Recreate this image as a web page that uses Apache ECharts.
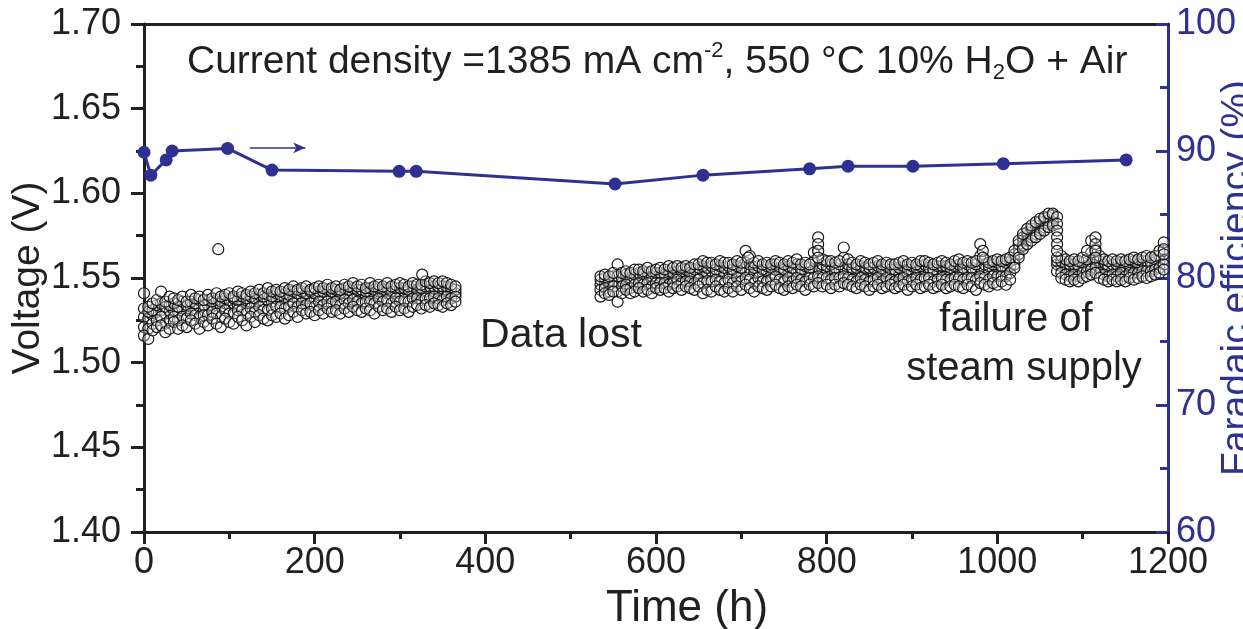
<!DOCTYPE html>
<html><head><meta charset="utf-8">
<script src="https://cdn.jsdelivr.net/npm/echarts/dist/echarts.min.js"></script>
<style>html,body{margin:0;padding:0;background:#fff}#c{width:1243px;height:629px}</style>
</head><body><div id="c"></div>
<script>
// ---- Data ----
const xTicks = [0, 200, 400, 600, 800, 1000, 1200];
const vTicks = ['1.40','1.45','1.50','1.55','1.60','1.65','1.70'];
const feTicks = [60, 70, 80, 90, 100];

// Faradaic efficiency (%)
const feTime = [0, 8, 26, 33, 98, 150, 299, 319, 552, 655, 780, 825, 901, 1007, 1151];
const feVal  = [89.9, 88.1, 89.3, 90.0, 90.2, 88.5, 88.4, 88.4, 87.4, 88.1, 88.6, 88.8, 88.8, 89.0, 89.3];

// Voltage, first segment (before data loss)
const seg1Time = [0,5,10,15,20,25,30,35,40,45,50,55,60,65,70,75,80,85,90,95,100,105,110,115,120,125,130,135,140,145,150,155,160,165,170,175,180,185,190,195,200,205,210,215,220,225,230,235,240,245,250,255,260,265,270,275,280,285,290,295,300,305,310,315,320,325,330,335,340,345,350,355,360,365];
const seg1Mid = [1.527,1.526,1.528,1.530,1.531,1.529,1.530,1.531,1.530,1.532,
 1.531,1.533,1.532,1.533,1.531,1.534,1.533,1.534,1.533,1.535,
 1.534,1.535,1.534,1.536,1.535,1.536,1.535,1.537,1.536,1.537,
 1.536,1.538,1.537,1.538,1.537,1.539,1.538,1.539,1.538,1.539,
 1.538,1.540,1.539,1.540,1.539,1.540,1.539,1.541,1.540,1.541,
 1.540,1.541,1.540,1.541,1.540,1.542,1.541,1.541,1.540,1.542,
 1.541,1.542,1.541,1.542,1.541,1.542,1.542,1.543,1.542,1.543,
 1.542,1.543,1.542,1.541];
const seg1UpMid = [1.532,1.530,1.531,1.534,1.535,1.533,1.534,1.535,1.533,1.536,
 1.534,1.536,1.535,1.537,1.534,1.537,1.536,1.537,1.536,1.538,
 1.537,1.538,1.537,1.539,1.538,1.539,1.538,1.540,1.539,1.540,
 1.539,1.541,1.540,1.541,1.540,1.542,1.541,1.542,1.541,1.542,
 1.541,1.542,1.542,1.543,1.542,1.543,1.541,1.544,1.543,1.544,
 1.543,1.543,1.542,1.544,1.543,1.544,1.543,1.544,1.542,1.544,
 1.544,1.544,1.543,1.545,1.543,1.544,1.545,1.545,1.545,1.545,
 1.545,1.545,1.544,1.543];
const seg1High = [1.541,1.533,1.535,1.537,1.542,1.536,1.539,1.538,1.537,1.539,
 1.536,1.540,1.538,1.539,1.537,1.540,1.538,1.541,1.539,1.540,
 1.541,1.539,1.542,1.541,1.540,1.542,1.541,1.543,1.541,1.544,
 1.542,1.543,1.542,1.544,1.543,1.545,1.543,1.544,1.545,1.543,
 1.544,1.545,1.544,1.546,1.544,1.545,1.543,1.546,1.545,1.547,
 1.545,1.546,1.544,1.547,1.545,1.546,1.545,1.547,1.545,1.546,
 1.547,1.546,1.545,1.547,1.546,1.546,1.548,1.547,1.548,1.547,
 1.548,1.547,1.546,1.545];
const seg1LoMid = [1.521,1.520,1.523,1.525,1.527,1.523,1.525,1.527,1.525,1.527,
 1.526,1.529,1.528,1.527,1.528,1.528,1.530,1.529,1.527,1.531,
 1.529,1.529,1.531,1.531,1.529,1.532,1.530,1.533,1.531,1.531,
 1.532,1.533,1.533,1.532,1.533,1.535,1.533,1.535,1.534,1.535,
 1.533,1.536,1.534,1.536,1.535,1.536,1.534,1.537,1.535,1.537,
 1.536,1.535,1.536,1.536,1.535,1.538,1.536,1.537,1.535,1.538,
 1.536,1.537,1.536,1.538,1.538,1.537,1.538,1.538,1.539,1.538,
 1.537,1.539,1.538,1.539];
const seg1Low = [1.516,1.514,1.519,1.521,1.522,1.518,1.520,1.524,1.520,1.522,
 1.521,1.525,1.523,1.520,1.524,1.522,1.526,1.523,1.521,1.526,
 1.524,1.523,1.527,1.525,1.522,1.527,1.524,1.528,1.526,1.525,
 1.528,1.527,1.529,1.526,1.528,1.530,1.527,1.531,1.529,1.530,
 1.528,1.531,1.529,1.532,1.530,1.531,1.529,1.532,1.530,1.533,
 1.531,1.530,1.532,1.531,1.529,1.533,1.531,1.532,1.530,1.533,
 1.531,1.532,1.530,1.533,1.534,1.532,1.534,1.533,1.535,1.534,
 1.533,1.535,1.534,1.536];

// Voltage, second segment (after data loss)
const seg2Time = [535,540,545,550,555,560,565,570,575,580,585,590,595,600,605,610,615,620,625,630,635,640,645,650,655,660,665,670,675,680,685,690,695,700,705,710,715,720,725,730,735,740,745,750,755,760,765,770,775,780,785,790,795,800,805,810,815,820,825,830,835,840,845,850,855,860,865,870,875,880,885,890,895,900,905,910,915,920,925,930,935,940,945,950,955,960,965,970,975,980,985,990,995,1000,1005,1010,1015,1020,1025,1030,1035,1040,1045,1050,1055,1060,1065,1070,1075,1080,1085,1090,1095,1100,1105,1110,1115,1120,1125,1130,1135,1140,1145,1150,1155,1160,1165,1170,1175,1180,1185,1190,1195];
const seg2Mid = [1.546,1.547,1.546,1.548,1.547,1.548,1.549,1.548,1.549,1.550,
 1.549,1.550,1.549,1.550,1.551,1.550,1.551,1.550,1.552,1.551,
 1.552,1.551,1.552,1.553,1.554,1.553,1.554,1.553,1.554,1.553,
 1.554,1.553,1.554,1.553,1.555,1.554,1.553,1.554,1.553,1.554,
 1.553,1.555,1.554,1.553,1.554,1.553,1.554,1.553,1.554,1.553,
 1.555,1.556,1.555,1.554,1.555,1.554,1.555,1.556,1.555,1.554,
 1.553,1.554,1.553,1.554,1.553,1.554,1.553,1.554,1.553,1.552,
 1.553,1.554,1.553,1.554,1.553,1.554,1.555,1.554,1.553,1.554,
 1.555,1.554,1.553,1.554,1.555,1.554,1.555,1.554,1.555,1.556,
 1.555,1.554,1.555,1.556,1.555,1.556,1.557,1.561,1.567,1.572,
 1.575,1.577,1.579,1.581,1.583,1.584,1.585,1.558,1.557,1.556,
 1.555,1.556,1.555,1.556,1.557,1.558,1.559,1.557,1.556,1.555,
 1.556,1.555,1.556,1.555,1.556,1.557,1.556,1.557,1.558,1.557,
 1.558,1.560,1.561];
const seg2UpMid = [1.549,1.550,1.548,1.551,1.551,1.550,1.552,1.550,1.552,1.553,
 1.552,1.553,1.551,1.553,1.553,1.552,1.554,1.553,1.554,1.554,
 1.555,1.553,1.555,1.556,1.557,1.556,1.557,1.555,1.557,1.556,
 1.557,1.555,1.557,1.556,1.559,1.558,1.556,1.557,1.555,1.557,
 1.556,1.558,1.556,1.555,1.557,1.556,1.558,1.555,1.557,1.556,
 1.560,1.566,1.558,1.557,1.558,1.556,1.558,1.562,1.558,1.556,
 1.556,1.557,1.556,1.556,1.556,1.557,1.555,1.557,1.555,1.555,
 1.556,1.557,1.555,1.557,1.556,1.557,1.558,1.556,1.555,1.557,
 1.557,1.557,1.556,1.557,1.558,1.556,1.558,1.556,1.558,1.563,
 1.558,1.557,1.558,1.559,1.557,1.559,1.560,1.564,1.570,1.574,
 1.577,1.579,1.581,1.583,1.585,1.586,1.587,1.560,1.560,1.558,
 1.558,1.558,1.557,1.559,1.561,1.565,1.567,1.560,1.558,1.557,
 1.558,1.558,1.559,1.557,1.558,1.560,1.558,1.560,1.560,1.559,
 1.561,1.563,1.566];
const seg2High = [1.551,1.552,1.551,1.553,1.558,1.553,1.554,1.553,1.555,1.555,
 1.554,1.556,1.554,1.555,1.556,1.555,1.557,1.556,1.557,1.556,
 1.557,1.556,1.558,1.558,1.560,1.559,1.559,1.558,1.560,1.559,
 1.559,1.558,1.560,1.559,1.566,1.563,1.559,1.560,1.558,1.559,
 1.558,1.560,1.559,1.558,1.560,1.559,1.561,1.558,1.559,1.558,
 1.565,1.574,1.561,1.560,1.560,1.559,1.560,1.568,1.561,1.559,
 1.558,1.560,1.559,1.558,1.559,1.560,1.558,1.559,1.558,1.558,
 1.559,1.560,1.558,1.559,1.558,1.560,1.560,1.559,1.558,1.559,
 1.560,1.559,1.558,1.560,1.561,1.559,1.560,1.559,1.560,1.570,
 1.561,1.559,1.560,1.561,1.560,1.561,1.562,1.566,1.572,1.576,
 1.579,1.581,1.583,1.585,1.586,1.588,1.588,1.586,1.563,1.561,
 1.560,1.561,1.560,1.562,1.566,1.572,1.574,1.563,1.561,1.560,
 1.561,1.560,1.561,1.560,1.561,1.562,1.561,1.562,1.563,1.562,
 1.563,1.566,1.571];
const seg2LoMid = [1.543,1.544,1.542,1.545,1.542,1.545,1.546,1.544,1.546,1.547,
 1.546,1.547,1.545,1.547,1.547,1.547,1.546,1.547,1.549,1.547,
 1.548,1.548,1.547,1.549,1.547,1.548,1.548,1.549,1.548,1.547,
 1.549,1.547,1.550,1.548,1.550,1.549,1.547,1.550,1.548,1.548,
 1.549,1.551,1.549,1.548,1.550,1.548,1.550,1.549,1.548,1.550,
 1.550,1.551,1.550,1.550,1.549,1.550,1.550,1.551,1.550,1.549,
 1.548,1.550,1.549,1.548,1.549,1.550,1.548,1.550,1.549,1.548,
 1.549,1.550,1.548,1.549,1.550,1.549,1.550,1.550,1.548,1.549,
 1.550,1.549,1.549,1.550,1.550,1.549,1.550,1.550,1.549,1.551,
 1.550,1.549,1.551,1.551,1.551,1.551,1.553,1.558,1.564,1.569,
 1.572,1.574,1.576,1.578,1.580,1.582,1.583,1.554,1.553,1.552,
 1.551,1.552,1.551,1.553,1.554,1.555,1.556,1.553,1.552,1.551,
 1.552,1.551,1.553,1.551,1.553,1.553,1.553,1.554,1.554,1.554,
 1.555,1.556,1.558];
const seg2Low = [1.539,1.541,1.540,1.542,1.536,1.541,1.543,1.541,1.542,1.544,
 1.542,1.543,1.541,1.544,1.543,1.544,1.542,1.544,1.545,1.543,
 1.545,1.544,1.543,1.545,1.541,1.543,1.542,1.545,1.543,1.542,
 1.544,1.542,1.545,1.543,1.546,1.544,1.542,1.545,1.544,1.543,
 1.545,1.546,1.544,1.543,1.545,1.544,1.546,1.545,1.543,1.546,
 1.545,1.547,1.545,1.546,1.544,1.546,1.545,1.547,1.546,1.545,
 1.544,1.546,1.545,1.543,1.545,1.546,1.544,1.545,1.546,1.544,
 1.545,1.546,1.543,1.545,1.546,1.544,1.545,1.546,1.544,1.545,
 1.546,1.544,1.545,1.546,1.545,1.544,1.546,1.545,1.543,1.547,
 1.546,1.545,1.547,1.546,1.548,1.546,1.549,1.556,1.562,1.567,
 1.570,1.572,1.574,1.576,1.578,1.580,1.581,1.562,1.550,1.549,
 1.548,1.549,1.548,1.550,1.551,1.552,1.553,1.550,1.549,1.548,
 1.549,1.548,1.549,1.548,1.550,1.549,1.550,1.551,1.550,1.551,
 1.552,1.553,1.555];

// isolated points and vertical stacks (spikes)
const extraTime = [87, 326, 708, 790, 790, 790, 983, 983, 1070, 1070, 1070, 1070, 1070, 1115, 1115, 1115, 1195, 1195];
const extraVolt = [1.567, 1.552, 1.562, 1.570, 1.566, 1.562, 1.566, 1.562, 1.582, 1.578, 1.574, 1.570, 1.566, 1.570, 1.566, 1.562, 1.567, 1.564];

// ---- Build ----
const BLUE = '#2e3192';
const INK = '#231f20';
const FONT = '"Liberation Sans", Arial, Helvetica, sans-serif';

function pairs(t, v) { return t.map((x, i) => [x, v[i]]); }
const voltData = [].concat(
  pairs(seg1Time, seg1Mid), pairs(seg2Time, seg2Mid),
  pairs(seg1Time, seg1UpMid), pairs(seg2Time, seg2UpMid),
  pairs(seg1Time, seg1LoMid), pairs(seg2Time, seg2LoMid),
  pairs(seg1Time, seg1High), pairs(seg2Time, seg2High),
  pairs(seg1Time, seg1Low), pairs(seg2Time, seg2Low),
  pairs(extraTime, extraVolt)
);
const feData = pairs(feTime, feVal);

const chart = echarts.init(document.getElementById('c'));
chart.setOption({
  animation: false,
  backgroundColor: '#fff',
  grid: { left: 144, right: 75, top: 24, bottom: 97, containLabel: false, outerBoundsMode: 'none' },
  xAxis: [{
    type: 'value', position: 'bottom', min: xTicks[0], max: xTicks[xTicks.length - 1], interval: 200,
    axisLine: { show: true, onZero: false, lineStyle: { color: INK, width: 3 } },
    axisTick: { show: true, inside: false, length: 12, lineStyle: { color: INK, width: 3 } },
    minorTick: { show: true, splitNumber: 2, length: 7, lineStyle: { color: INK, width: 3 } },
    splitLine: { show: false },
    axisLabel: { color: INK, fontSize: 36, fontFamily: FONT, margin: 13,
      formatter: v => String(xTicks[Math.round(v / 200)]) },
    name: 'Time (h)', nameLocation: 'middle', nameGap: 55, nameMoveOverlap: false,
    nameTextStyle: { color: INK, fontSize: 44, fontFamily: FONT, padding: [0, 0, 0, 62] }
  }, {
    type: 'value', position: 'top', min: 0, max: 1200, interval: 200,
    axisLine: { show: true, onZero: false, lineStyle: { color: INK, width: 3 } },
    axisTick: { show: false }, axisLabel: { show: false }, splitLine: { show: false }
  }],
  yAxis: [{
    type: 'value', position: 'left', min: 1.40, max: 1.70, interval: 0.05,
    axisLine: { show: true, onZero: false, lineStyle: { color: INK, width: 3 } },
    axisTick: { show: true, inside: false, length: 13, lineStyle: { color: INK, width: 3 } },
    minorTick: { show: true, splitNumber: 2, length: 8, lineStyle: { color: INK, width: 3 } },
    splitLine: { show: false },
    axisLabel: { color: INK, fontSize: 36, fontFamily: FONT, margin: 23,
      formatter: v => vTicks[Math.round((v - 1.40) / 0.05)] },
    name: 'Voltage (V)', nameLocation: 'middle', nameGap: 96, nameRotate: 90,
    nameMoveOverlap: false,
    nameTextStyle: { color: INK, fontSize: 39, fontFamily: FONT }
  }, {
    type: 'value', position: 'right', min: feTicks[0], max: feTicks[feTicks.length - 1], interval: 10,
    axisLine: { show: true, onZero: false, lineStyle: { color: BLUE, width: 3 } },
    axisTick: { show: true, inside: true, length: 12, lineStyle: { color: BLUE, width: 3 } },
    minorTick: { show: true, splitNumber: 2, length: 8, lineStyle: { color: BLUE, width: 3 } },
    splitLine: { show: false },
    axisLabel: { color: BLUE, fontSize: 36, fontFamily: FONT, margin: 8 },
    name: 'Faradaic efficiency (%)', nameLocation: 'middle', nameGap: 50, nameRotate: 90,
    nameMoveOverlap: false,
    nameTextStyle: { color: BLUE, fontSize: 39, fontFamily: FONT }
  }],
  series: [{
    type: 'scatter', name: 'Voltage', xAxisIndex: 0, yAxisIndex: 0,
    symbol: 'circle', symbolSize: 11,
    itemStyle: { color: 'rgba(255,255,255,0.3)', borderColor: '#161616', borderWidth: 1.2, opacity: 1 },
    data: voltData, z: 2
  }, {
    type: 'line', name: 'FE', xAxisIndex: 0, yAxisIndex: 1,
    symbol: 'circle', symbolSize: 13, showSymbol: true,
    lineStyle: { color: BLUE, width: 3 },
    itemStyle: { color: BLUE, borderColor: BLUE, borderWidth: 0 },
    data: feData, z: 3,
    markLine: {
      silent: true, symbol: ['none', 'arrow'], symbolSize: [8, 12],
      label: { show: false },
      lineStyle: { color: BLUE, width: 1.5, type: 'solid' },
      data: [[{ coord: [124, 90.25] }, { coord: [189, 90.25] }]]
    }
  }],
  graphic: [{
    type: 'text', x: 187, y: 62,
    style: {
      text: 'Current density =1385 mA cm{sup|-2}, 550 °C 10% H{sub|2}O + Air',
      fontSize: 39, fontFamily: FONT, fill: INK, align: 'left', verticalAlign: 'middle',
      lineHeight: 44,
      rich: {
        sup: { fontSize: 22, fontFamily: FONT, fill: INK, verticalAlign: 'top', lineHeight: 22 },
        sub: { fontSize: 22, fontFamily: FONT, fill: INK, verticalAlign: 'bottom', lineHeight: 9 }
      }
    }
  }, {
    type: 'text', x: 561, y: 336,
    style: { text: 'Data lost', fontSize: 41, fontFamily: FONT, fill: INK, align: 'center', verticalAlign: 'middle' }
  }, {
    type: 'text', x: 1016, y: 320,
    style: { text: 'failure of', fontSize: 40, fontFamily: FONT, fill: INK, align: 'center', verticalAlign: 'middle' }
  }, {
    type: 'text', x: 1024, y: 369,
    style: { text: 'steam supply', fontSize: 40, fontFamily: FONT, fill: INK, align: 'center', verticalAlign: 'middle' }
  }]
});
</script>
</body></html>
